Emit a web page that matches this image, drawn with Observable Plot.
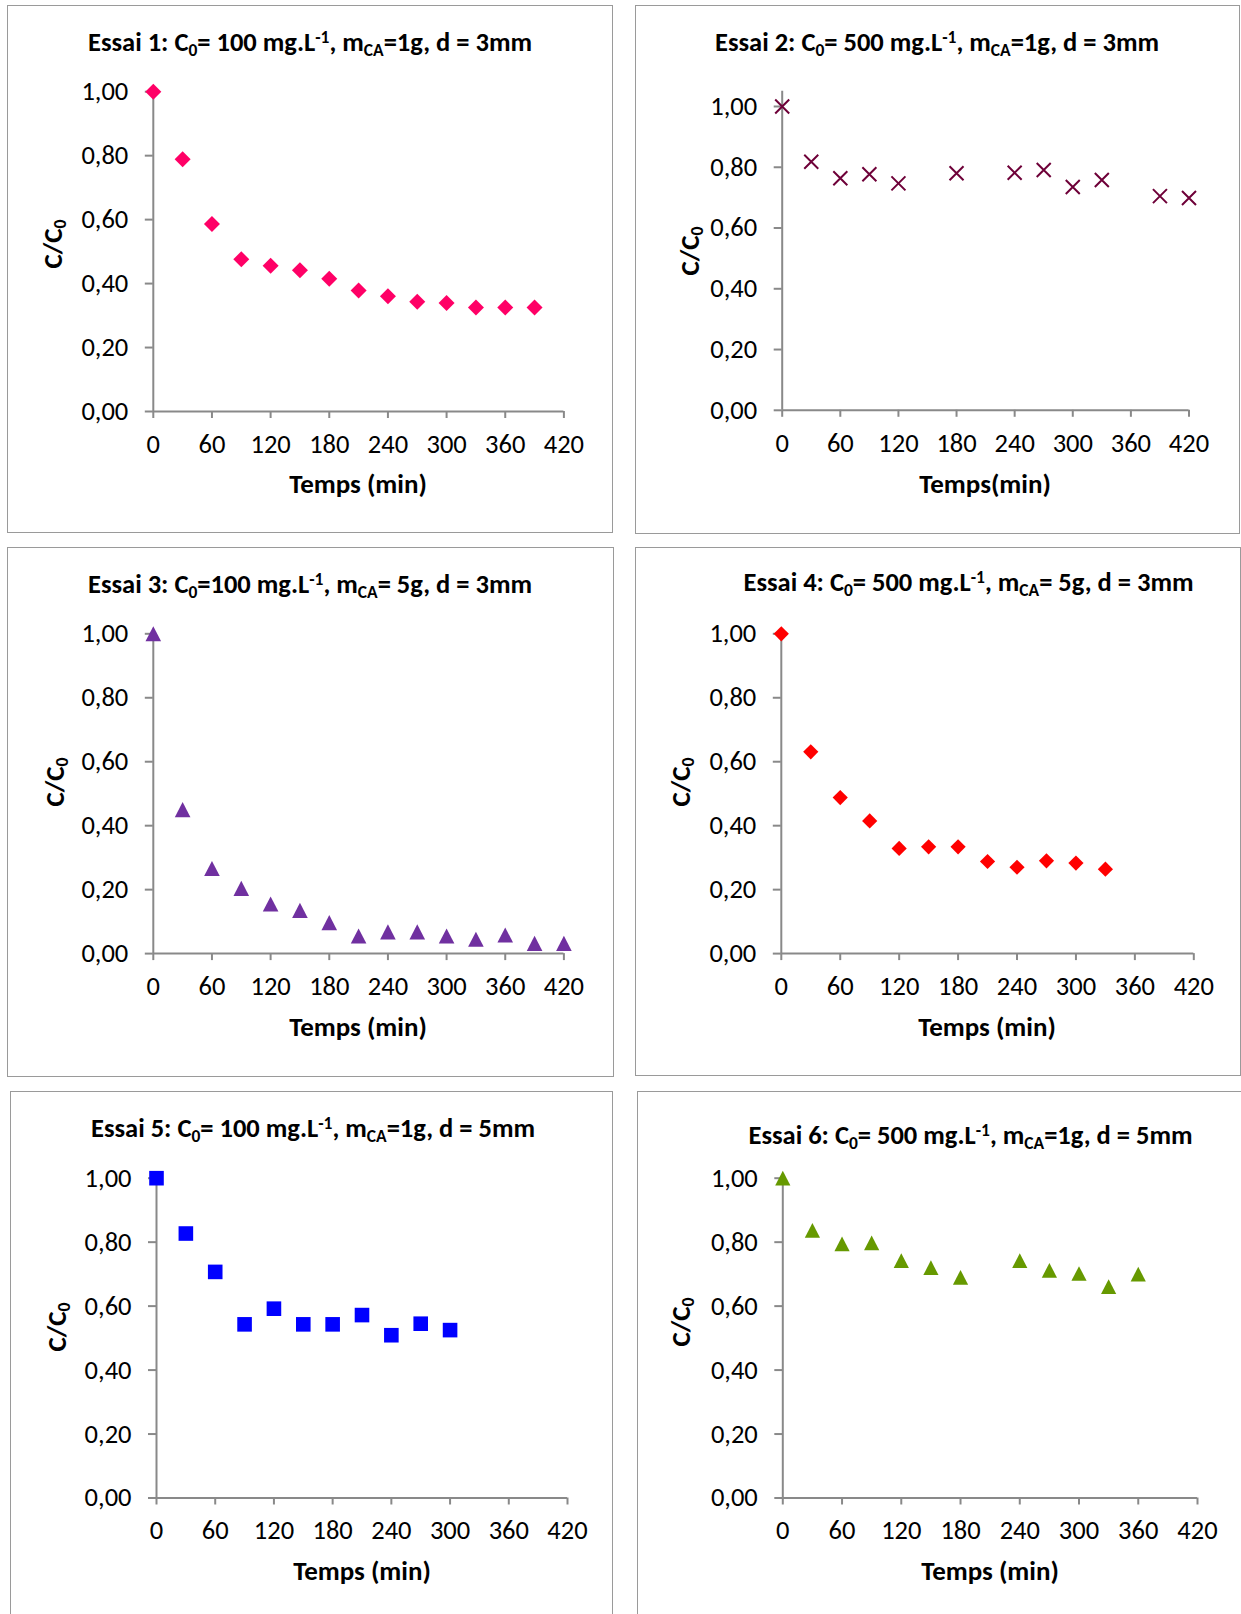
<!DOCTYPE html>
<html>
<head>
<meta charset="utf-8">
<script src="https://cdn.jsdelivr.net/npm/d3@7"></script>
<script src="https://cdn.jsdelivr.net/npm/@observablehq/plot@0.6"></script>
<style>
  html, body { margin: 0; padding: 0; background: #fff; }
  #page { position: relative; width: 1241px; height: 1614px; overflow: hidden; background: #fff;
          font-family: Carlito, Lato, "Open Sans", sans-serif; color: #000; }
  .panel { position: absolute; border: 1.5px solid #9a9a9a; box-sizing: border-box; }
  .plot { position: absolute; }
  .title { position: absolute; font-weight: bold; line-height: 1; white-space: nowrap; transform: translateX(-50%); }
  .xlabel { position: absolute; font-weight: bold; line-height: 1; white-space: nowrap; transform: translateX(-50%); }
  .ylabel { position: absolute; font-weight: bold; line-height: 1; white-space: nowrap;
            transform: translate(-50%, -50%) rotate(-90deg); }
  .sub { font-size: 0.66em; vertical-align: -0.28em; line-height: 0; }
  .sup { font-size: 0.66em; vertical-align: 0.45em; line-height: 0; }
</style>
</head>
<body>
<div id="page"></div>
<script>
// ---------------- DATA ----------------
const xTicks = [0, 60, 120, 180, 240, 300, 360, 420];
const yTicks = [0, 0.2, 0.4, 0.6, 0.8, 1.0];

const titles = [
  'Essai 1: C<span class="sub">0</span>= 100 mg.L<span class="sup">-1</span>, m<span class="sub">CA</span>=1g, d = 3mm',
  'Essai 2: C<span class="sub">0</span>= 500 mg.L<span class="sup">-1</span>, m<span class="sub">CA</span>=1g, d = 3mm',
  'Essai 3: C<span class="sub">0</span>=100 mg.L<span class="sup">-1</span>, m<span class="sub">CA</span>= 5g, d = 3mm',
  'Essai 4: C<span class="sub">0</span>= 500 mg.L<span class="sup">-1</span>, m<span class="sub">CA</span>= 5g, d = 3mm',
  'Essai 5: C<span class="sub">0</span>= 100 mg.L<span class="sup">-1</span>, m<span class="sub">CA</span>=1g, d = 5mm',
  'Essai 6: C<span class="sub">0</span>= 500 mg.L<span class="sup">-1</span>, m<span class="sub">CA</span>=1g, d = 5mm'
];
const xLabels = ["Temps (min)", "Temps(min)", "Temps (min)", "Temps (min)", "Temps (min)", "Temps (min)"];
const yLabel = 'C/C<span class="sub">0</span>';

const t1 = [0, 30, 60, 90, 120, 150, 180, 210, 240, 270, 300, 330, 360, 390];
const v1 = [1.00, 0.789, 0.586, 0.476, 0.456, 0.442, 0.415, 0.378, 0.360, 0.343, 0.339, 0.325, 0.325, 0.325];

const t2 = [0, 30, 60, 90, 120, 180, 240, 270, 300, 330, 390, 420];
const v2 = [1.00, 0.818, 0.764, 0.777, 0.747, 0.780, 0.782, 0.791, 0.735, 0.758, 0.705, 0.699];

const t3 = [0, 30, 60, 90, 120, 150, 180, 210, 240, 270, 300, 330, 360, 390, 420];
const v3 = [1.00, 0.450, 0.266, 0.204, 0.155, 0.135, 0.097, 0.055, 0.068, 0.068, 0.055, 0.045, 0.058, 0.032, 0.032];

const t4 = [0, 30, 60, 90, 120, 150, 180, 210, 240, 270, 300, 330];
const v4 = [1.00, 0.631, 0.488, 0.415, 0.329, 0.334, 0.334, 0.288, 0.270, 0.290, 0.283, 0.264];

const t5 = [0, 30, 60, 90, 120, 150, 180, 210, 240, 270, 300];
const v5 = [1.00, 0.827, 0.707, 0.543, 0.592, 0.543, 0.543, 0.572, 0.509, 0.545, 0.525];

const t6 = [0, 30, 60, 90, 120, 150, 180, 240, 270, 300, 330, 360];
const v6 = [1.00, 0.837, 0.795, 0.798, 0.742, 0.720, 0.690, 0.742, 0.712, 0.702, 0.661, 0.700];

const yMax = [1.0, 1.05, 1.0, 1.0, 1.0, 1.0];
const colors = ["#FF0066", "#6E0038", "#7030A0", "#FF0000", "#0000FF", "#669900"];

// ---------------- SYMBOLS ----------------
const rad = size => Math.sqrt(size / Math.PI);
const diamond = { draw(c, size) { const r = rad(size); c.moveTo(0, -r); c.lineTo(r, 0); c.lineTo(0, r); c.lineTo(-r, 0); c.closePath(); } };
const square = { draw(c, size) { const r = rad(size); c.moveTo(-r, -r); c.lineTo(r, -r); c.lineTo(r, r); c.lineTo(-r, r); c.closePath(); } };
const triangle = { draw(c, size) { const r = rad(size); const h = r * 0.97; c.moveTo(0, -h); c.lineTo(r, h); c.lineTo(-r, h); c.closePath(); } };
const cross = { draw(c, size) { const r = rad(size); c.moveTo(-r, -r); c.lineTo(r, r); c.moveTo(r, -r); c.lineTo(-r, r); } };

// ---------------- LAYOUT ----------------
// panel box [L, T, R, B], axis pixel positions, text baselines / centres
const layout = [
  { box: [7, 5, 613, 533],    x0: 152.8, x1: 563.4, yt: 91.2,  yb: 411.0, title: [310, 51],    xl: [358, 493],   yl: [51.5, 244] },
  { box: [635, 5, 1240, 534], x0: 781.7, x1: 1188.5, yt: 90.8, yb: 409.8, title: [937, 51],    xl: [985, 493],   yl: [689, 251] },
  { box: [7, 547, 614, 1077], x0: 152.8, x1: 563.4, yt: 633.3, yb: 953.1, title: [310, 593.4], xl: [358, 1036],  yl: [53.5, 782] },
  { box: [635, 547, 1241, 1076], x0: 780.8, x1: 1193.3, yt: 633.3, yb: 953.1, title: [968.5, 591.7], xl: [987, 1036], yl: [679.5, 782] },
  { box: [10, 1091, 613, 1640], x0: 156.0, x1: 567.0, yt: 1177.7, yb: 1497.5, title: [313, 1137.3], xl: [362, 1580], yl: [55.8, 1327] },
  { box: [637, 1091, 1260, 1640], x0: 782.3, x1: 1197.0, yt: 1177.7, yb: 1497.5, title: [970.5, 1144], xl: [990, 1580], yl: [680, 1322] }
];

const series = [
  { t: t1, v: v1, symbol: diamond, r: 8.0, filled: true },
  { t: t2, v: v2, symbol: cross, r: 7.0, filled: false },
  { t: t3, v: v3, symbol: triangle, r: 7.8, filled: true },
  { t: t4, v: v4, symbol: diamond, r: 7.6, filled: true },
  { t: t5, v: v5, symbol: square, r: 7.3, filled: true },
  { t: t6, v: v6, symbol: triangle, r: 7.6, filled: true }
];

const page = document.getElementById("page");
const fmt = d => d.toFixed(2).replace(".", ",");
const axisGray = "#898989";
const tickFont = "Carlito, Lato, 'Open Sans', sans-serif";
const fsTitle = 26.5, fsLabel = 27, fsTick = 26.5;
const baseRatio = 0.842; // baseline offset within a line-height:1 box

layout.forEach((L, i) => {
  const [bl, bt, br, bb] = L.box;
  const panel = document.createElement("div");
  panel.className = "panel";
  Object.assign(panel.style, { left: bl + "px", top: bt + "px", width: (br - bl) + "px", height: (bb - bt) + "px" });
  page.appendChild(panel);

  const W = br - bl, H = bb - bt;
  const s = series[i];
  const data = s.t.map((t, k) => ({ t, v: s.v[k] }));
  const chart = Plot.plot({
    width: W, height: H,
    marginLeft: L.x0 - bl, marginRight: br - L.x1,
    marginTop: L.yt - bt, marginBottom: bb - L.yb,
    x: { domain: [0, 420] },
    y: { domain: [0, yMax[i]] },
    style: { fontFamily: tickFont, fontSize: fsTick + "px", color: "#000", background: "transparent", overflow: "visible" },
    marks: [
      Plot.axisY({ ticks: yTicks, tickFormat: fmt, tickSize: 8, tickPadding: 17, stroke: axisGray, strokeWidth: 2, label: null }),
      Plot.axisX({ ticks: xTicks, tickFormat: d => String(d), tickSize: 7, tickPadding: 15.5, stroke: axisGray, strokeWidth: 2, label: null }),
      Plot.ruleX([0], { stroke: axisGray, strokeWidth: 2 }),
      Plot.ruleY([0], { stroke: axisGray, strokeWidth: 2 }),
      s.filled
        ? Plot.dot(data, { x: "t", y: "v", symbol: s.symbol, r: s.r, fill: colors[i], stroke: "none" })
        : Plot.dot(data, { x: "t", y: "v", symbol: s.symbol, r: s.r, fill: "none", stroke: colors[i], strokeWidth: 2 })
    ]
  });
  chart.classList.add("plot");
  chart.style.left = bl + "px";
  chart.style.top = bt + "px";
  page.appendChild(chart);

  const title = document.createElement("div");
  title.className = "title";
  title.innerHTML = titles[i];
  title.style.fontSize = fsTitle + "px";
  title.style.left = L.title[0] + "px";
  title.style.top = (L.title[1] - baseRatio * fsTitle) + "px";
  page.appendChild(title);

  const xl = document.createElement("div");
  xl.className = "xlabel";
  xl.textContent = xLabels[i];
  xl.style.fontSize = fsLabel + "px";
  xl.style.left = L.xl[0] + "px";
  xl.style.top = (L.xl[1] - baseRatio * fsLabel) + "px";
  page.appendChild(xl);

  const yl = document.createElement("div");
  yl.className = "ylabel";
  yl.innerHTML = yLabel;
  yl.style.fontSize = fsLabel + "px";
  yl.style.left = L.yl[0] + "px";
  yl.style.top = L.yl[1] + "px";
  page.appendChild(yl);
});
</script>
</body>
</html>
